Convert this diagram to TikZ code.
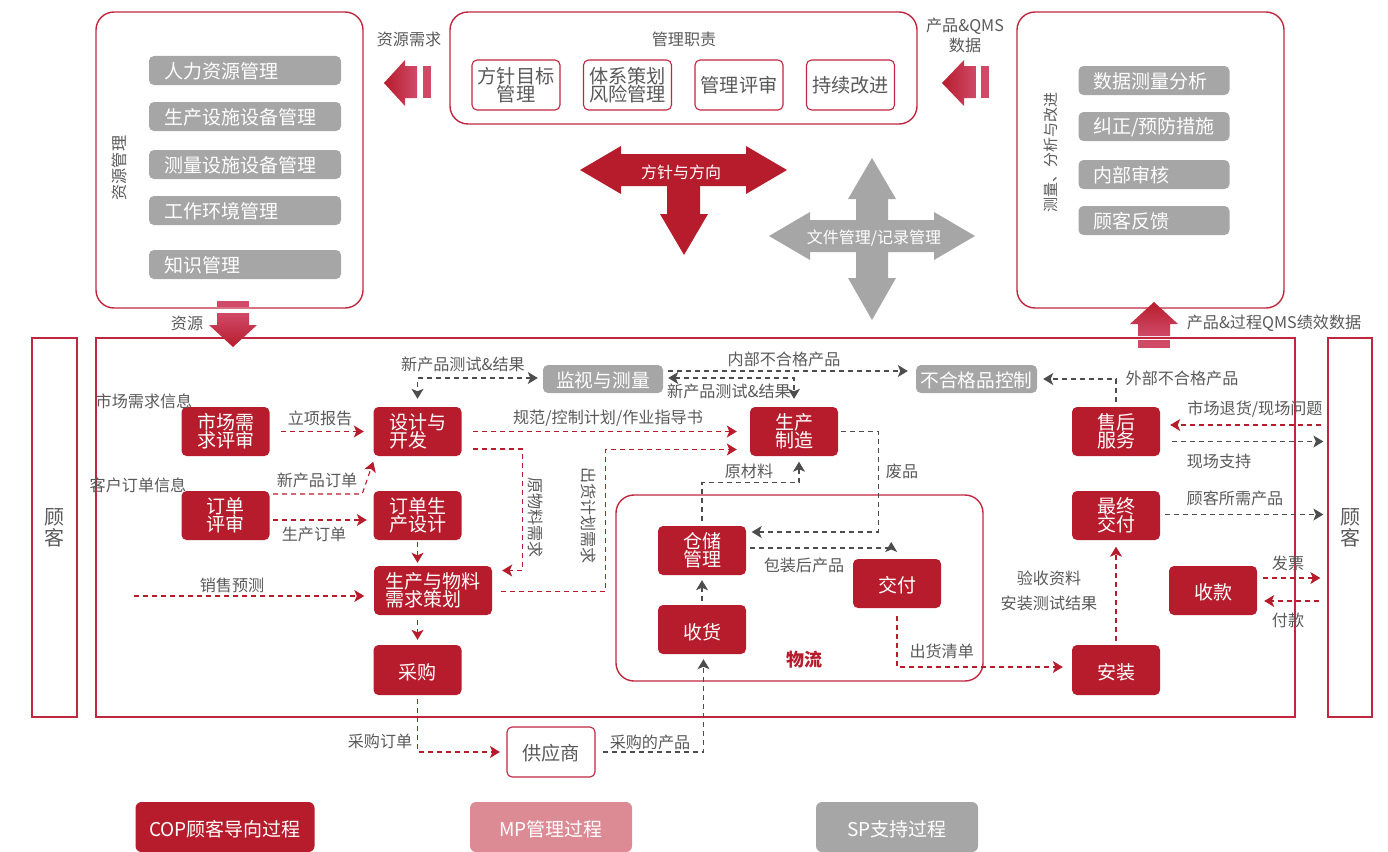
\documentclass[tikz,border=0pt]{standalone}
\usepackage{fontspec}
\setmainfont{Noto Sans CJK SC}
\usetikzlibrary{arrows.meta,calc}
\definecolor{cop}{HTML}{B71C2C}
\definecolor{edge}{HTML}{C0263F}
\definecolor{mpc}{HTML}{DC8B95}
\definecolor{spc}{HTML}{A6A6A6}
\definecolor{txt}{HTML}{595959}
\definecolor{flowg}{HTML}{4D4D4D}
\definecolor{pinkc}{HTML}{D04A68}
\newcommand\dnt[2]{\raisebox{-#1pt}[\height][\depth]{#2}}
\tikzset{
  redbox/.style={fill=cop,text=white,rounded corners=5pt,minimum width=88pt,minimum height=49pt,inner sep=0pt,align=center,font=\fontsize{19}{18}\selectfont},
  whitebox/.style={draw=edge,line width=1.1pt,fill=white,text=txt,rounded corners=5pt,minimum width=88pt,minimum height=50pt,inner sep=0pt,align=center,font=\fontsize{19.2}{18}\selectfont},
  bigbox/.style={draw=edge,line width=1.4pt,rounded corners=18pt,inner sep=0pt},
  frame/.style={draw=edge,line width=1.3pt,inner sep=0pt},
  grayitem/.style={fill=spc,text=white,rounded corners=5pt,minimum height=29pt,inner ysep=0pt,inner xsep=15pt,align=left,font=\fontsize{19}{19}\selectfont},
  graybox/.style={fill=spc,text=white,rounded corners=5pt,minimum height=28pt,inner sep=0pt,align=center,font=\fontsize{18.7}{18.7}\selectfont},
  legendbox/.style={text=white,rounded corners=6pt,minimum height=50pt,inner sep=0pt,font=\fontsize{19}{19}\selectfont},
  lbl/.style={text=txt,inner sep=0pt,align=center,yshift=-1pt,font=\fontsize{16.1}{18}\selectfont},
  redflow/.style={draw=cop,line width=1.1pt,dash pattern=on 5pt off 4pt,-{Stealth[length=10pt,width=12pt,inset=2.5pt]}},
  grayflow/.style={draw=flowg,line width=1.1pt,dash pattern=on 5pt off 4pt,-{Stealth[length=10pt,width=12pt,inset=2.5pt]}},
  bothflow/.style={grayflow,{Stealth[length=10pt,width=12pt,inset=2.5pt]}-{Stealth[length=10pt,width=12pt,inset=2.5pt]}},
}
\begin{document}
\begin{tikzpicture}[x=1pt,y=-1pt]
\useasboundingbox (0,0) rectangle (1388,851);

% outer frames
\node[frame,minimum width=1199pt,minimum height=379pt] (mainbox) at (695.5,527.5) {};
\node[frame,minimum width=45pt,minimum height=379pt,align=center,text=txt,font=\fontsize{20}{21}\selectfont] (cusL) at (54.5,527.5) {顾\\客};
\node[frame,minimum width=44pt,minimum height=379pt,align=center,text=txt,font=\fontsize{20}{21}\selectfont] (cusR) at (1350,527.5) {顾\\客};

% top panels
\node[bigbox,minimum width=267pt,minimum height=296pt] (res) at (229.5,160) {};
\node[bigbox,minimum width=467pt,minimum height=112pt] (mgt) at (683.5,68) {};
\node[bigbox,minimum width=267pt,minimum height=296pt] (meas) at (1150.5,160) {};
\node[bigbox,minimum width=367pt,minimum height=186pt] (logi) at (799.5,588) {};

\node[lbl,rotate=90] (resT) at (119,167) {资源管理};
\node[grayitem,text width=162pt] (r1) at (245,70.5) {\dnt{1}{人力资源管理}};
\node[grayitem,text width=162pt] (r2) at (245,116.5) {\dnt{1}{生产设施设备管理}};
\node[grayitem,text width=162pt] (r3) at (245,164.5) {\dnt{1}{测量设施设备管理}};
\node[grayitem,text width=162pt] (r4) at (245,210.5) {\dnt{1}{工作环境管理}};
\node[grayitem,text width=162pt] (r5) at (245,264.5) {\dnt{1}{知识管理}};

\node[lbl] (mgtT) at (684,38.5) {管理职责};
\node[whitebox] (m1) at (516,85) {方针目标\\管理};
\node[whitebox] (m2) at (627.5,85) {体系策划\\风险管理};
\node[whitebox] (m3) at (739,85) {管理评审};
\node[whitebox] (m4) at (850.5,85) {持续改进};

\node[lbl,rotate=90,font=\fontsize{15}{18}\selectfont] (measT) at (1051,151) {测量、分析与改进};
\node[grayitem,text width=121pt] (q1) at (1154,80.5) {\dnt{1}{数据测量分析}};
\node[grayitem,text width=121pt] (q2) at (1154,126.5) {\dnt{1}{纠正/预防措施}};
\node[grayitem,text width=121pt] (q3) at (1154,174.5) {\dnt{1}{内部审核}};
\node[grayitem,text width=121pt] (q4) at (1154,220.5) {\dnt{1}{顾客反馈}};

% block arrows
\shade[left color=cop,right color=pinkc] (384,83) -- (405,60) -- (405,66) -- (417,66) -- (417,98) -- (405,98) -- (405,106) -- cycle;
\fill[pinkc] (423,66) rectangle (431,98);
\shade[left color=cop,right color=pinkc] (942,83) -- (964,60) -- (964,66) -- (976,66) -- (976,98) -- (964,98) -- (964,106) -- cycle;
\fill[pinkc] (981,66) rectangle (989,98);
\fill[cop] (580,170) -- (621,146) -- (621,154) -- (746,154) -- (746,146) -- (787,170) -- (746,194) -- (746,186) -- (621,186) -- (621,194) -- cycle;
\fill[cop] (667,186) -- (700,186) -- (700,214) -- (708,214) -- (684,255) -- (660,214) -- (667,214) -- cycle;
\fill[spc] (872,158) -- (896,199) -- (888,199) -- (888,220) -- (934,220) -- (934,212) -- (975,236) -- (934,260) -- (934,252) -- (888,252) -- (888,278) -- (896,278) -- (872,320) -- (848,278) -- (856,278) -- (856,252) -- (810,252) -- (810,260) -- (769,236) -- (810,212) -- (810,220) -- (856,220) -- (856,199) -- (848,199) -- cycle;
\node[text=white,inner sep=0pt,font=\fontsize{16}{18}\selectfont] (dirT) at (681,172) {方针与方向};
\node[text=white,inner sep=0pt,font=\fontsize{16}{18}\selectfont] (docT) at (874,238) {文件管理/记录管理};
\fill[pinkc] (217,301) rectangle (249,307);
\shade[top color=pinkc,bottom color=cop] (217,313) -- (249,313) -- (249,325) -- (257,325) -- (233,347) -- (209,325) -- (217,325) -- cycle;
\fill[pinkc] (1138,340) rectangle (1170,348);
\shade[top color=cop,bottom color=pinkc] (1154,302) -- (1178,324) -- (1170,324) -- (1170,336) -- (1138,336) -- (1138,324) -- (1130,324) -- cycle;

\node[lbl] (a1) at (409,38.5) {资源需求};
\node[lbl] (a2) at (965,34.5) {产品\&QMS\\[2pt]数据};
\node[lbl] (a3) at (187,322.5) {资源};
\node[lbl] (a4) at (1274,322.5) {产品\&过程QMS绩效数据};

% process nodes
\node[redbox] (mkt) at (225.5,431.5) {市场需\\求评审};
\node[redbox,align=left] (dev) at (417.5,431.5) {设计与\\开发\phantom{与}};
\node[redbox] (ord) at (225.5,515.5) {订单\\评审};
\node[redbox] (pd) at (417.5,515.5) {订单生\\产设计};
\node[redbox,minimum width=118pt,align=left] (plan) at (433,590.5) {生产与物料\\需求策划};
\node[redbox,minimum height=50pt] (buy) at (417.5,670) {\dnt{2}{采购}};
\node[redbox] (prod) at (794,431.5) {生产\\制造};
\node[redbox] (store) at (702,550.5) {仓储\\管理};
\node[redbox] (recv) at (702,629.5) {\dnt{2.5}{收货}};
\node[redbox] (deliver) at (897,583.5) {\dnt{2}{交付}};
\node[redbox] (after) at (1116,431.5) {售后\\服务};
\node[redbox] (final) at (1116,515.5) {最终\\交付};
\node[redbox] (pay) at (1213,590.5) {\dnt{2}{收款}};
\node[redbox,minimum height=50pt] (inst) at (1116,670) {\dnt{2}{安装}};
\node[whitebox] (supp) at (551,752) {\dnt{1}{供应商}};
\node[graybox,minimum width=120pt] (mon) at (603,379) {\dnt{1}{监视与测量}};
\node[graybox,minimum width=121pt] (ncr) at (976.5,379) {\dnt{1}{不合格品控制}};
\coordinate (sales) at (134,596);

% connectors
\draw[redflow] ([shift={(11.5,0)}]mkt.east) -- ([shift={(-9.5,0)}]dev.west);
\draw[redflow] ([shift={(3.5,-21.5)}]ord.east) -- ++(89,0) -- ([shift={(0,5.5)}]dev.south west);
\draw[redflow] ([shift={(3.5,4.5)}]ord.east) -- ([shift={(-6.5,4.5)}]pd.west);
\draw[redflow] ([shift={(0,1.5)}]pd.south) -- ([shift={(-15.5,-3)}]plan.north);
\draw[redflow] ([shift={(-15.5,5)}]plan.south) -- ([shift={(0,-5)}]buy.north);
\draw[redflow] ([shift={(0,4)}]buy.south) |- ([shift={(-6.5,0)}]supp.west);
\draw[grayflow] ([shift={(7,0)}]supp.east) -| ([shift={(1.5,5)}]recv.south);
\draw[redflow] (sales) -- ([shift={(-9.5,5.5)}]plan.west);
\draw[redflow] ([shift={(11.5,0)}]dev.east) -- ([shift={(-13,0)}]prod.west);
\draw[redflow] ([shift={(11.5,17.5)}]dev.east) -- ++(49,0) |- ([shift={(10,-20)}]plan.east);
\draw[redflow] ([shift={(9,1)}]plan.east) -- ++(104.7,0) |- ([shift={(-13,18)}]prod.west);
\draw[bothflow] ([shift={(-5,-1)}]mon.west) -| ([shift={(0,-8)}]dev.north);
\draw[grayflow] ([shift={(5,-8)}]mon.east) -- ([shift={(-8,-8)}]ncr.west);
\draw[bothflow] ([shift={(5,-1)}]mon.east) -| ([shift={(0,-8)}]prod.north);
\draw[grayflow] ([shift={(0,-5)}]store.north) -- ++(0,-38) -| ([shift={(5,5.5)}]prod.south);
\draw[grayflow] ([shift={(2.5,0)}]prod.east) -- ++(37.5,0) |- ([shift={(5.5,-18.5)}]store.east);
\draw[grayflow] ([shift={(4,-2.5)}]store.east) -- ++(141,0) -- ++(0,-6);
\draw[grayflow] ([shift={(0,-3.5)}]recv.north) -- ([shift={(0,5)}]store.south);
\draw[redflow] ([shift={(0,8)}]deliver.south) |- ([shift={(-9,-3)}]inst.west);
\draw[redflow] ([shift={(0,-3.5)}]inst.north) -- ([shift={(0,6.5)}]final.south);
\draw[grayflow] ([shift={(5,-1)}]final.east) -- ([shift={(-4,-13)}]cusR.west);
\draw[redflow] ([shift={(-6,-102.5)}]cusR.west) -- ([shift={(10,-6.5)}]after.east);
\draw[grayflow] ([shift={(12,10)}]after.east) -- ([shift={(-4,-86)}]cusR.west);
\draw[grayflow] ([shift={(0,-5)}]after.north) |- ([shift={(6,0)}]ncr.east);
\draw[redflow] ([shift={(6,-12.5)}]pay.east) -- ([shift={(-7,50.5)}]cusR.west);
\draw[redflow] ([shift={(-8,73.5)}]cusR.west) -- ([shift={(7,10.5)}]pay.east);

% labels
\node[lbl] (l1) at (144,400.5) {市场需求信息};
\node[lbl] (l2) at (138,484.5) {客户订单信息};
\node[lbl] (l3) at (320,417.5) {立项报告};
\node[lbl] (l4) at (317,479.5) {新产品订单};
\node[lbl] (l5) at (314,533.5) {生产订单};
\node[lbl] (l6) at (232,584.5) {销售预测};
\node[lbl] (l7) at (380,740.5) {采购订单};
\node[lbl] (l8) at (650,741.5) {采购的产品};
\node[lbl] (l9) at (608,417.5) {规范/控制计划/作业指导书};
\node[lbl,rotate=-90] (l10) at (536,516.5) {原物料需求};
\node[lbl,rotate=-90] (l11) at (589,514.5) {出货计划需求};
\node[lbl] (l12) at (463,363.5) {新产品测试\&结果};
\node[lbl] (l13) at (784,358.5) {内部不合格产品};
\node[lbl] (l14) at (729,390.5) {新产品测试\&结果};
\node[lbl] (l15) at (749,470.5) {原材料};
\node[lbl] (l16) at (902,470.5) {废品};
\node[lbl] (l17) at (804,564.5) {包装后产品};
\node[lbl] (l18) at (941.7,650.5) {出货清单};
\node[lbl] (l19) at (1049,577.5) {验收资料};
\node[lbl] (l20) at (1049,602.5) {安装测试结果};
\node[lbl] (l21) at (1235,497.5) {顾客所需产品};
\node[lbl] (l22) at (1255,408.5) {市场退货/现场问题};
\node[lbl] (l23) at (1219,460.5) {现场支持};
\node[lbl] (l24) at (1182,377.5) {外部不合格产品};
\node[lbl] (l25) at (1288,562.5) {发票};
\node[lbl] (l26) at (1288,619.5) {付款};
\node[text=cop,inner sep=0pt,font=\fontsize{18}{18}\selectfont\bfseries] (l27) at (804,660) {物流};

% legend
\node[legendbox,fill=cop,minimum width=179pt] (k1) at (225,827) {\dnt{2}{COP顾客导向过程}};
\node[legendbox,fill=mpc,minimum width=162pt] (k2) at (551,827) {\dnt{2}{MP管理过程}};
\node[legendbox,fill=spc,minimum width=162pt] (k3) at (897,827) {\dnt{2}{SP支持过程}};
\end{tikzpicture}
\end{document}
